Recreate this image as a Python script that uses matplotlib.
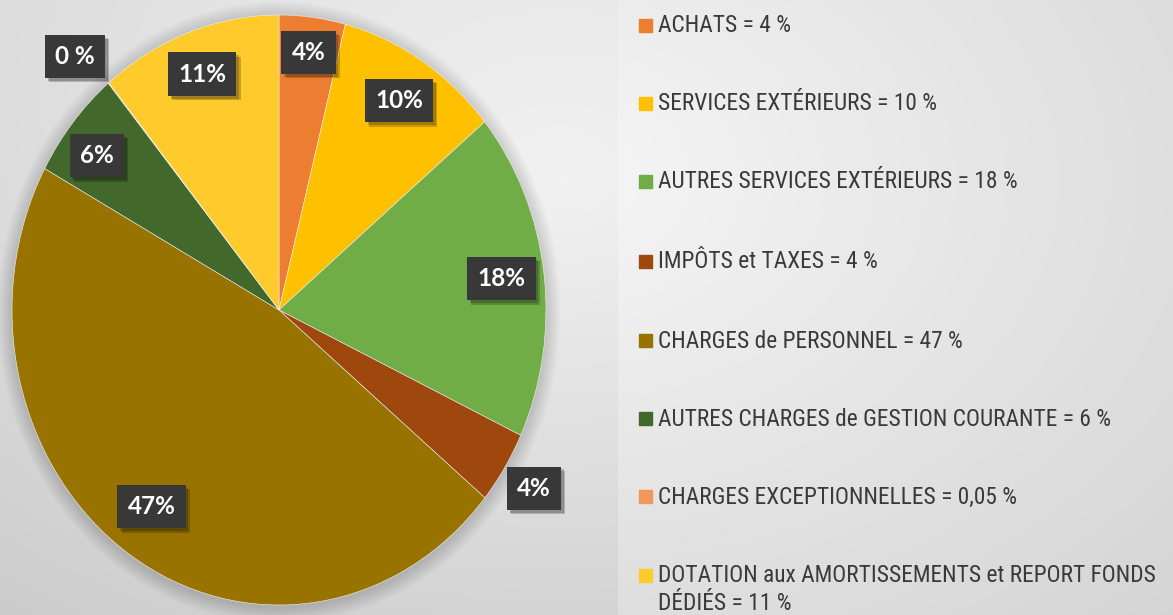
import numpy as np
import matplotlib
matplotlib.use("Agg")
import matplotlib.pyplot as plt
from matplotlib.patches import Ellipse, Rectangle
import matplotlib.patheffects as pe

# Daten
kategorien = [
    "ACHATS",
    "SERVICES EXTÉRIEURS",
    "AUTRES SERVICES EXTÉRIEURS",
    "IMPÔTS et TAXES",
    "CHARGES de PERSONNEL",
    "AUTRES CHARGES de GESTION COURANTE",
    "CHARGES EXCEPTIONNELLES",
    "DOTATION aux AMORTISSEMENTS et REPORT FONDS\nDÉDIÉS",
]
werte = [4, 10, 18, 4, 47, 6, 0.05, 11]
etiketten = ["4%", "10%", "18%", "4%", "47%", "6%", "0 %", "11%"]
farben = ["#ED7D31", "#FFC000", "#70AD47", "#9E480E",
          "#997300", "#43682B", "#F1975A", "#FFCA2C"]
# Lage der Beschriftung: radialer Abstand (1 = Rand) und Winkelversatz
abstand = [0.88, 0.84, 0.84, 1.13, 0.82, 0.86, 1.15, 0.85]
versatz = [0, 0, 0, 0, 1.5, -2.0, -2.0, 0]

schrift = ["Roboto Condensed", "Lato", "DejaVu Sans"]
schrift_etikett = ["Lato", "DejaVu Sans"]

W, H = 1173, 615
fig = plt.figure(figsize=(W / 100, H / 100), dpi=100)

# Hintergrund mit Verlauf
bg = fig.add_axes([0, 0, 1, 1])
yy, xx = np.mgrid[0:H, 0:W]
d = np.sqrt(((xx - 560) / 800.0) ** 2 + ((yy - 180) / 560.0) ** 2)
grau = 0.965 - 0.12 * d
grau = np.where(xx < 618, grau - 0.03 * (yy / H) - 0.01, grau)
bild = np.dstack([grau, grau, grau])
bg.imshow(np.clip(bild, 0, 1), extent=[0, W, H, 0], aspect="auto")
bg.axis("off")

# Torte (elliptisch wie im Original)
ax = fig.add_axes([12 / W, 10 / H, 534 / W, 590 / H])
for k in range(12):
    s = 1.0 + 0.0045 * (k + 1)
    ax.add_patch(Ellipse((0.0, -0.008), 2 * s, 2 * s, color="black",
                         alpha=0.012, lw=0, zorder=0, clip_on=False))

keile, _ = ax.pie(werte, colors=farben, startangle=90, counterclock=False,
                  radius=1, wedgeprops=dict(edgecolor="#f0f0f0", linewidth=0.4))
for w in keile:
    w.set_zorder(2)
ax.set_aspect("auto")
ax.set_xlim(-1, 1)
ax.set_ylim(-1, 1)

# Datenbeschriftungen
summe = sum(werte)
kum = 0
for wert, text, r, dv in zip(werte, etiketten, abstand, versatz):
    mitte = np.radians((kum + wert / 2) / summe * 360 + dv)
    kum += wert
    x = r * np.sin(mitte)
    y = r * np.cos(mitte)
    t = ax.text(x, y, text, ha="center", va="center", color="white",
                fontsize=17.5, fontweight="bold", family=schrift_etikett, zorder=5,
                bbox=dict(boxstyle="square,pad=0.42", fc="#383838", ec="none"))
    t.get_bbox_patch().set_path_effects([
        pe.SimplePatchShadow(offset=(3, -3), shadow_rgbFace="black", alpha=0.2),
        pe.SimplePatchShadow(offset=(2, -2), shadow_rgbFace="black", alpha=0.2),
        pe.Normal()])

# Legende
zeilen_y = [25, 103, 181, 261, 340, 418, 496, 575]
for name, wert, farbe, yp in zip(kategorien, werte, farben, zeilen_y):
    wert_txt = f"{wert:g}".replace(".", ",")
    fig.patches.append(Rectangle((639 / W, 1 - (yp + 7) / H), 13 / W, 13 / H,
                                 transform=fig.transFigure, color=farbe))
    zeilen = f"{name} = {wert_txt} %".split("\n")
    for i, z in enumerate(zeilen):
        fig.text(658 / W, 1 - (yp + 1 + 28 * i) / H, z, va="center", ha="left",
                 fontsize=16.8, color="#3a3a3a", family=schrift)

fig.savefig("out.png", dpi=100)
